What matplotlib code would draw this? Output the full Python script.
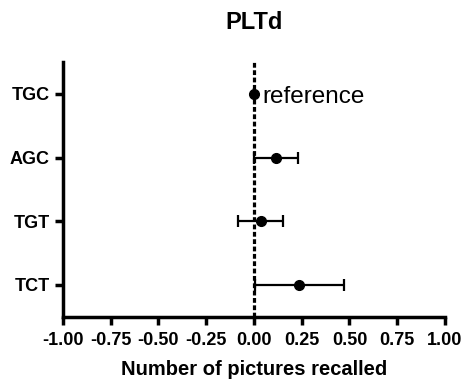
import numpy as np
import matplotlib.pyplot as plt

plt.rcParams['font.family'] = ['Liberation Sans', 'DejaVu Sans']

groups = ["TCT", "TGT", "AGC", "TGC"]
means = [0.238, 0.035, 0.117, 0.0]
errs = [0.233, 0.117, 0.115, 0.0]

fig = plt.figure(figsize=(4.65, 3.85), dpi=100)
ax = fig.add_axes([0.135, 0.177, 0.822, 0.662])

pos = np.arange(len(groups))
ax.axvline(0, color='black', lw=2.3, ls=(0, (1.5, 0.8)), zorder=1)
ax.errorbar(means, pos, xerr=errs, fmt='o', color='black', ms=7,
            elinewidth=1.6, capsize=4, capthick=1.6, zorder=3)
ax.text(0.045, 2.86, "reference", fontsize=17.5, va='baseline', ha='left')

ax.set_xlim(-1, 1)
ax.set_ylim(-0.5, 3.5)
ax.set_xticks(np.arange(-1, 1.01, 0.25))
ax.set_xticklabels(["%.2f" % v for v in np.arange(-1, 1.01, 0.25)])
ax.set_yticks(pos)
ax.set_yticklabels(groups)

for s in ['top', 'right']:
    ax.spines[s].set_visible(False)
for s in ['left', 'bottom']:
    ax.spines[s].set_linewidth(2.5)
ax.tick_params(width=2.5, length=6, labelsize=13)
ax.tick_params(axis='x', pad=5)
for lab in ax.get_xticklabels() + ax.get_yticklabels():
    lab.set_fontweight('bold')

ax.set_xlabel("Number of pictures recalled", fontsize=14.5, fontweight='bold', labelpad=8)
ax.set_title("PLTd", fontsize=17, fontweight='bold', pad=24)

fig.savefig("out.png", dpi=100)
